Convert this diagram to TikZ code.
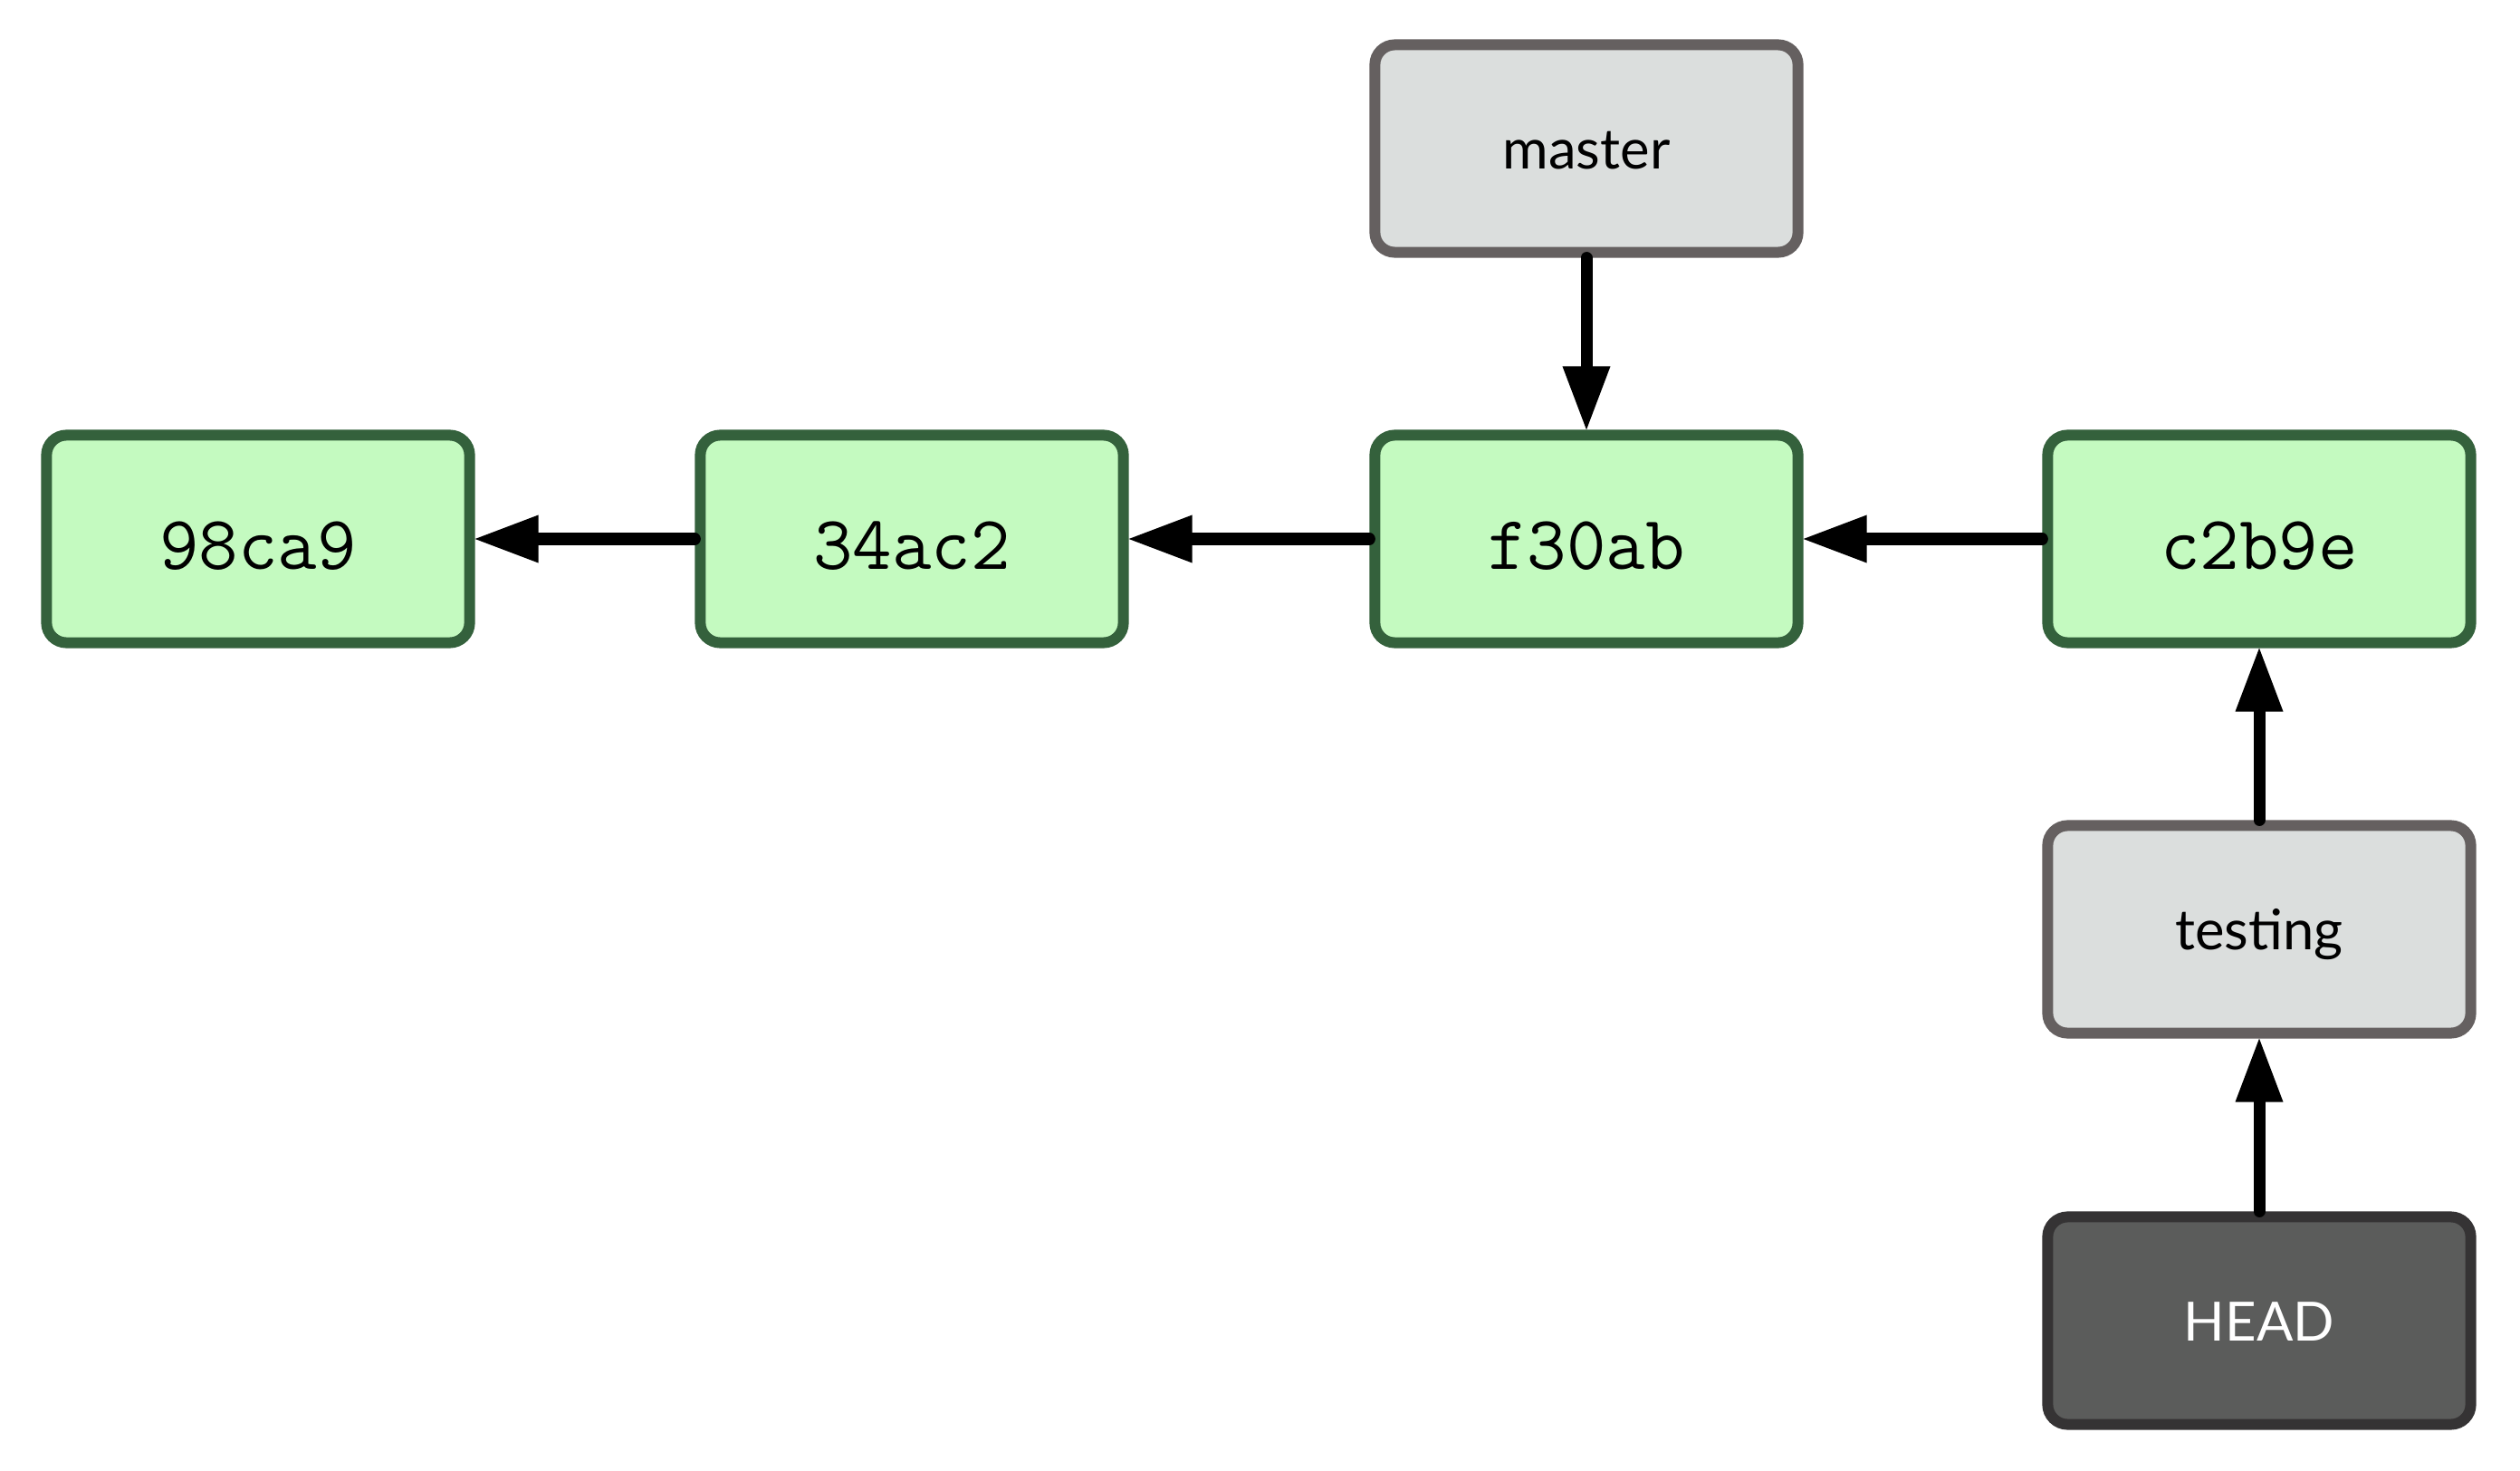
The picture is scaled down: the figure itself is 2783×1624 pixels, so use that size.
\documentclass[tikz,border=0pt]{standalone}
\usepackage{fontspec}
\newfontfamily\lblfont{Lato}
\usetikzlibrary{arrows.meta}
\definecolor{commitfill}{HTML}{C4FAC0}
\definecolor{commitdraw}{HTML}{34613C}
\definecolor{branchfill}{HTML}{DBDEDD}
\definecolor{branchdraw}{HTML}{656060}
\definecolor{headfill}{HTML}{5B5C5B}
\definecolor{headdraw}{HTML}{353334}
\begin{document}
\begin{tikzpicture}[x=0.01cm,y=-0.01cm,
  box/.style={draw, line width=0.12cm, rounded corners=0.22cm, minimum width=4.67cm, minimum height=2.29cm, inner sep=0pt},
  commit/.style={box, draw=commitdraw, fill=commitfill, font=\ttfamily\fontsize{24}{24}\selectfont, text height=0.66cm, text depth=0pt},
  branch/.style={box, draw=branchdraw, fill=branchfill, font=\lblfont\fontsize{17.5}{17.5}\selectfont, text height=0.45cm, text depth=0pt},
  headbox/.style={box, draw=headdraw, fill=headfill, text=white, font=\lblfont\fontsize{17}{17}\selectfont, text height=0.45cm, text depth=0pt},
  ptr/.style={line width=0.13cm, line cap=round, -{Triangle[length=0.7cm,width=0.53cm,line width=0pt]}}]
\useasboundingbox (0,0) rectangle (2783,1624);
\node[commit] (c98) at (285,595) {98ca9};
\node[commit] (c34) at (1007,595) {34ac2};
\node[commit] (cf3) at (1752,595) {f30ab};
\node[commit] (cc2) at (2495,595) {c2b9e};
\node[branch] (master) at (1752,164) {master};
\node[branch] (testing) at (2495,1026) {testing};
\node[headbox] (head) at (2495,1458) {HEAD};
\draw[ptr] (c34) -- (c98);
\draw[ptr] (cf3) -- (c34);
\draw[ptr] (cc2) -- (cf3);
\draw[ptr] (master) -- (cf3);
\draw[ptr] (testing) -- (cc2);
\draw[ptr] (head) -- (testing);
\end{tikzpicture}
\end{document}
